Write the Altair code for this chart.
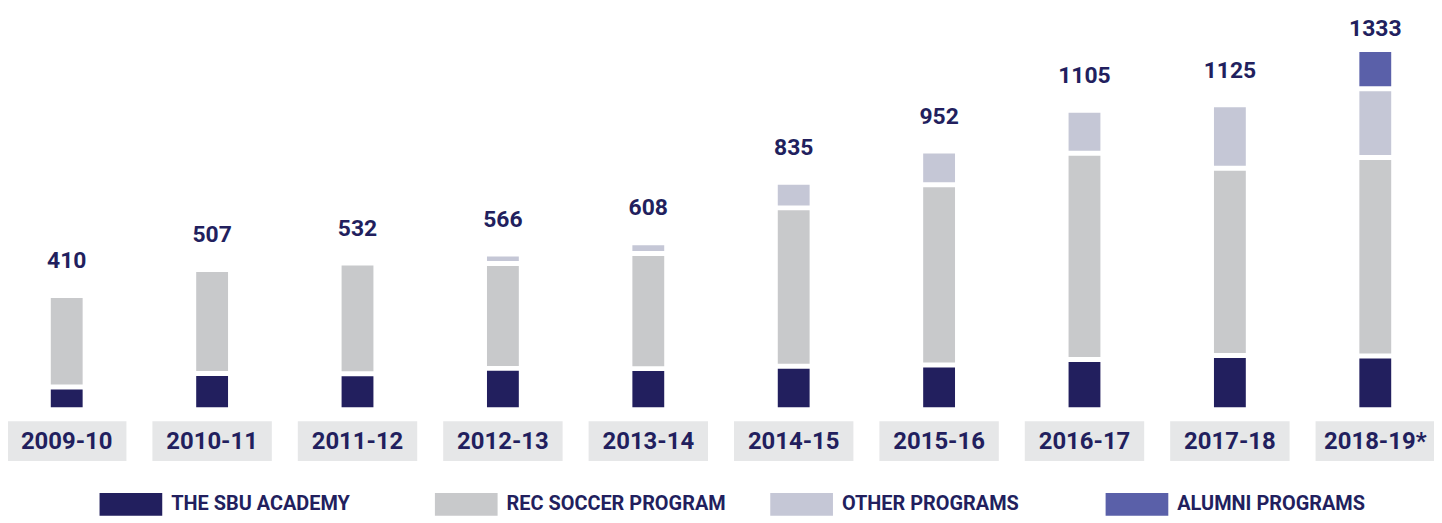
import altair as alt
import pandas as pd

# ---- data ----
seasons = ["2009-10", "2010-11", "2011-12", "2012-13", "2013-14",
           "2014-15", "2015-16", "2016-17", "2017-18", "2018-19*"]
totals = [410, 507, 532, 566, 608, 835, 952, 1105, 1125, 1333]
academy = [76, 127, 126, 146, 145, 154, 159, 179, 194, 192]
rec_soccer = [334, 380, 406, 393, 432, 594, 676, 774, 703, 745]
other_programs = [0, 0, 0, 27, 31, 87, 117, 152, 228, 258]
alumni_programs = [0, 0, 0, 0, 0, 0, 0, 0, 0, 138]
programs = ["THE SBU ACADEMY", "REC SOCCER PROGRAM", "OTHER PROGRAMS", "ALUMNI PROGRAMS"]
colors = ["#221f5e", "#c8c9cb", "#c5c7d6", "#5a60a9"]

series = [academy, rec_soccer, other_programs, alumni_programs]
rows = []
for i, s in enumerate(seasons):
    for k, (p, vals) in enumerate(zip(programs, series)):
        if vals[i] > 0:
            rows.append({"season": s, "program": p, "value": vals[i], "order": k})
seg = pd.DataFrame(rows)
tot = pd.DataFrame({"season": seasons, "total": totals})

NAVY = "#221f5e"
FONT = "Roboto"
W, H = 1433, 400
YMAX = 1493
PX = YMAX / H                      # data units per pixel
GAP_UNITS = 2.5 * PX               # half of the white gap between stacked segments
LABEL_GAP = 30 * PX                # value label baseline above the bar top
LABEL_CAP = YMAX * (1 - 26.5 / H)  # keep the top label inside the picture

xscale = alt.Scale(domain=seasons, paddingInner=0.1923, paddingOuter=0)
yscale = alt.Scale(domain=[0, YMAX], nice=False, zero=True)
xenc = alt.X("season:N", sort=seasons, scale=xscale, axis=None)

bars = (
    alt.Chart(seg)
    .transform_stack(stack="value", groupby=["season"], as_=["lo", "hi"],
                     sort=[alt.SortField("order", order="ascending")])
    .transform_joinaggregate(top="max(hi)", groupby=["season"])
    .transform_calculate(
        y0=f"datum.lo == 0 ? 0 : datum.lo + {GAP_UNITS}",
        y1=f"datum.hi == datum.top ? datum.hi : datum.hi - {GAP_UNITS}",
    )
    .mark_bar(width=32)
    .encode(
        x=xenc,
        y=alt.Y("y0:Q", scale=yscale, axis=None),
        y2="y1:Q",
        color=alt.Color(
            "program:N",
            scale=alt.Scale(domain=programs, range=colors),
            legend=alt.Legend(
                title=None, orient="none", legendX=92, legendY=466,
                direction="horizontal", columns=4, gridAlign="all",
                symbolType="M-1,-0.365H1V0.365H-1Z", symbolSize=3969,
                symbolStrokeWidth=0, symbolOpacity=1,
                labelFont=FONT, labelFontSize=20, labelFontWeight="bold",
                labelColor=NAVY, labelOffset=9, columnPadding=44,
                labelLimit=400,
            ),
        ),
    )
)

boxes = alt.Chart(tot).mark_bar(width=120, color="#e6e7e8").encode(
    x=xenc, y=alt.value(414), y2=alt.value(454)
)

cat_text = alt.Chart(tot).mark_text(
    font=FONT, fontSize=24, fontWeight="bold", color=NAVY, baseline="middle"
).encode(x=xenc, y=alt.value(434.5), text="season:N")

val_text = (
    alt.Chart(tot)
    .transform_calculate(label_y=f"min(datum.total + {LABEL_GAP}, {LABEL_CAP})")
    .mark_text(font=FONT, fontSize=23, fontWeight="bold", color=NAVY,
               baseline="alphabetic")
    .encode(x=xenc, y=alt.Y("label_y:Q", scale=yscale, axis=None),
            text="total:Q")
)

chart = (
    alt.layer(boxes, cat_text, bars, val_text)
    .properties(width=W, height=H,
                padding={"left": 0, "top": 0, "right": 0, "bottom": 110},
                autosize=alt.AutoSizeParams(type="none"))
    .configure_view(stroke=None)
)

chart.save("out.html", embed_options={"renderer": "svg", "actions": False})
